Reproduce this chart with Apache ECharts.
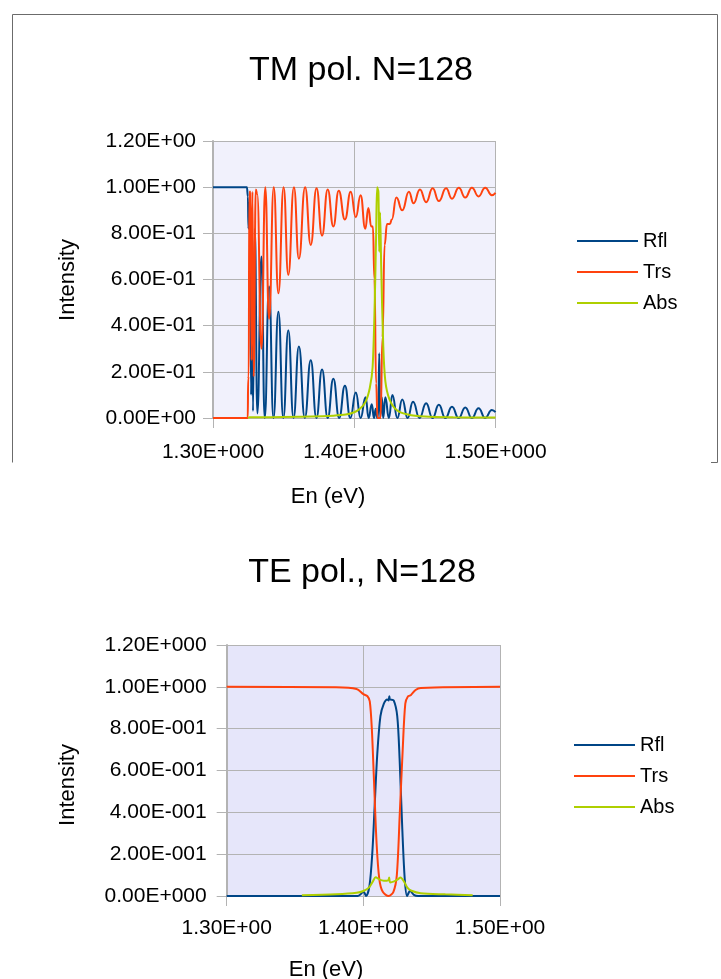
<!DOCTYPE html>
<html>
<head>
<meta charset="utf-8">
<script src="https://cdn.jsdelivr.net/npm/echarts@6/dist/echarts.min.js"></script>
<style>
html,body{margin:0;padding:0;background:#fff;}
#chart{width:721px;height:979px;}
</style>
</head>
<body>
<div id="chart"></div>
<script>
// ---------- data ----------
const seriesNames = ['Rfl', 'Trs', 'Abs'];

const tmYLabels = ['0.00E+00','2.00E-01','4.00E-01','6.00E-01','8.00E-01','1.00E+00','1.20E+00'];
const tmXLabels = ['1.30E+000','1.40E+000','1.50E+000'];
const teYLabels = ['0.00E+000','2.00E-001','4.00E-001','6.00E-001','8.00E-001','1.00E+000','1.20E+000'];
const teXLabels = ['1.30E+00','1.40E+00','1.50E+00'];

const tmRfl = [
[1.3000,1.00],[1.3240,1.00],[1.3247,0.96],[1.3251,0.82],[1.3256,0.93],[1.3262,0.80],[1.3270,0.10],[1.3276,0.82],[1.3283,0.03],
[1.3296,0.82],[1.3314,0.02],[1.3343,0.70],[1.3366,0.00],[1.3397,0.57],[1.3428,0.00],[1.3463,0.46],[1.3498,0.00],[1.3533,0.38],
[1.3570,0.00],[1.3608,0.31],[1.3650,0.00],[1.3692,0.25],[1.3732,0.00],[1.3772,0.21],[1.3812,0.00],[1.3852,0.17],[1.3893,0.00],
[1.3934,0.14],[1.3972,0.00],[1.4011,0.11],[1.4045,0.00],[1.4080,0.09],[1.4102,0.00],[1.4124,0.06],[1.4140,0.00],[1.4152,0.04],
[1.4163,0.00],[1.4170,0.01],[1.4177,0.28],[1.4183,0.00],[1.4195,0.09],[1.4205,0.00],[1.4220,0.09],[1.4245,0.00],[1.4270,0.10],
[1.4305,0.00],[1.4340,0.08],[1.4378,0.00],[1.4416,0.07],[1.4462,0.00],[1.4509,0.064],[1.4554,0.00],[1.4599,0.057],[1.4645,0.00],
[1.4692,0.049],[1.4739,0.00],[1.4786,0.046],[1.4833,0.00],[1.4880,0.042],[1.4927,0.00],[1.4974,0.035],[1.5000,0.025]
];
const tmTrs = [
[1.3000,0.00],[1.3246,0.00],[1.3249,0.17],[1.3253,0.18],[1.3257,0.98],[1.3266,0.98],[1.3273,0.25],[1.3279,0.98],[1.3288,0.18],
[1.3303,0.99],[1.3313,0.97],[1.3343,0.30],[1.3370,1.00],[1.3397,0.43],[1.3430,1.00],[1.3463,0.54],[1.3500,1.00],[1.3533,0.62],
[1.3573,1.00],[1.3608,0.69],[1.3652,1.00],[1.3692,0.75],[1.3733,0.995],[1.3772,0.79],[1.3812,0.99],[1.3852,0.83],[1.3890,0.985],
[1.3934,0.86],[1.3975,0.98],[1.4011,0.87],[1.4045,0.965],[1.4078,0.82],[1.4100,0.91],[1.4120,0.83],[1.4132,0.83],[1.4143,0.60],
[1.4155,0.15],[1.4165,0.00],[1.4186,0.00],[1.4200,0.35],[1.4215,0.75],[1.4232,0.84],[1.4252,0.84],[1.4266,0.86],[1.4298,0.955],
[1.4340,0.90],[1.4387,0.98],[1.4420,0.93],[1.4465,0.99],[1.4509,0.935],[1.4555,0.995],[1.4599,0.94],[1.4650,0.995],[1.4692,0.95],
[1.4740,0.997],[1.4786,0.955],[1.4833,0.998],[1.4880,0.96],[1.4927,0.998],[1.4974,0.965],[1.5000,0.975]
];
const tmAbs = [
[1.3248,0.000],[1.3260,0.003],[1.3500,0.004],[1.3700,0.006],[1.3850,0.010],[1.3940,0.015],[1.4000,0.025],[1.4040,0.040],
[1.4080,0.070],[1.4110,0.130],[1.4130,0.220],[1.4145,0.500],[1.4155,0.800],[1.4162,1.000],[1.4171,0.980],[1.4177,0.720],
[1.4183,0.890],[1.4191,0.650],[1.4205,0.320],[1.4220,0.160],[1.4250,0.080],[1.4300,0.035],[1.4380,0.015],[1.4500,0.006],
[1.4700,0.003],[1.5000,0.002]
];

const teRfl = [
[1.3000,0.00],[1.3960,0.00],[1.4002,0.02],[1.4020,0.00],[1.4045,0.05],[1.4065,0.20],[1.4082,0.42],[1.4102,0.68],[1.4125,0.86],
[1.4150,0.92],[1.4175,0.94],[1.4185,0.935],[1.4190,0.955],[1.4195,0.94],[1.4222,0.935],[1.4248,0.86],[1.4265,0.66],[1.4285,0.32],
[1.4303,0.08],[1.4320,0.00],[1.4342,0.025],[1.4370,0.005],[1.4400,0.00],[1.5000,0.00]
];
const teTrs = [
[1.3000,1.00],[1.3800,0.998],[1.3950,0.99],[1.4000,0.965],[1.4030,0.955],[1.4047,0.93],[1.4062,0.80],[1.4078,0.55],[1.4097,0.25],
[1.4117,0.08],[1.4142,0.02],[1.4185,0.00],[1.4220,0.02],[1.4245,0.10],[1.4267,0.40],[1.4288,0.70],[1.4307,0.92],[1.4327,0.955],
[1.4347,0.96],[1.4382,0.985],[1.4420,0.995],[1.5000,1.00]
];
const teAbs = [
[1.3550,0.004],[1.3800,0.008],[1.3950,0.015],[1.4005,0.025],[1.4040,0.040],[1.4070,0.070],[1.4090,0.090],[1.4120,0.078],
[1.4150,0.073],[1.4182,0.075],[1.4189,0.088],[1.4196,0.065],[1.4225,0.070],[1.4252,0.080],[1.4272,0.088],[1.4297,0.070],
[1.4322,0.040],[1.4352,0.025],[1.4420,0.013],[1.4600,0.008],[1.4800,0.004]
];

// ---------- styling ----------
const FONT = "'Liberation Sans', Arial, sans-serif";
const COLORS = {Rfl:'#004586', Trs:'#ff420e', Abs:'#aecf00'};
const GRIDLINE = '#b3b3b3';

function xAxisCfg(gridIndex, labels, margin) {
  return {
    gridIndex, type:'value', min:1.3, max:1.5, interval:0.1,
    axisLine:{show:true, onZero:false, lineStyle:{color:GRIDLINE, width:1}},
    axisTick:{show:true, length:10, lineStyle:{color:GRIDLINE}},
    axisLabel:{margin, fontSize:21, color:'#000', fontFamily:FONT,
      formatter:(v)=>labels[Math.round((v-1.3)/0.1)]},
    splitLine:{show:true, lineStyle:{color:GRIDLINE, width:1}}
  };
}
function yAxisCfg(gridIndex, labels, margin) {
  return {
    gridIndex, type:'value', min:0, max:1.2, interval:0.2,
    axisLine:{show:true, lineStyle:{color:GRIDLINE, width:2}},
    axisTick:{show:true, length:10, lineStyle:{color:GRIDLINE}},
    axisLabel:{margin, fontSize:21, color:'#000', fontFamily:FONT,
      formatter:(v)=>labels[Math.round(v/0.2)]},
    splitLine:{show:true, lineStyle:{color:GRIDLINE, width:1}}
  };
}
function lineSeries(name, data, idx, smoothCfg) {
  return Object.assign({
    name, type:'line', data, xAxisIndex:idx, yAxisIndex:idx,
    symbol:'none', showSymbol:false, clip:true,
    lineStyle:{color:COLORS[name], width:2},
    itemStyle:{color:COLORS[name]},
    emphasis:{disabled:true}
  }, smoothCfg);
}
function legendCfg(left, top) {
  return {
    data:seriesNames.slice(), orient:'vertical', left, top, padding:0,
    icon:'rect', itemWidth:61, itemHeight:2, itemGap:11, selectedMode:false,
    textStyle:{fontSize:20, lineHeight:20, color:'#000', fontFamily:FONT}
  };
}
function text(t, x, y, size, rot) {
  return {type:'text', x, y, rotation:rot||0, silent:true,
    style:{text:t, fill:'#000', fontSize:size, fontFamily:FONT,
      align:'center', verticalAlign:'middle', textAlign:'center', textVerticalAlign:'middle'}};
}

const monoX = {smooth:0.5, smoothMonotone:'x'};
const soft = {smooth:0.3};

const option = {
  animation:false,
  backgroundColor:'#ffffff',
  grid:[
    {left:213, top:141, width:282.5, height:277, show:true, backgroundColor:'#f1f1fc', borderWidth:0, outerBoundsMode:'none'},
    {left:226.7, top:645, width:273.3, height:251, show:true, backgroundColor:'#e6e6fa', borderWidth:0, outerBoundsMode:'none'}
  ],
  xAxis:[xAxisCfg(0, tmXLabels, 24), xAxisCfg(1, teXLabels, 22)],
  yAxis:[yAxisCfg(0, tmYLabels, 17), yAxisCfg(1, teYLabels, 20)],
  legend:[legendCfg(577, 231), legendCfg(574, 735)],
  series:[
    lineSeries('Rfl', tmRfl, 0, monoX),
    lineSeries('Trs', tmTrs, 0, monoX),
    lineSeries('Abs', tmAbs, 0, soft),
    lineSeries('Rfl', teRfl, 1, soft),
    lineSeries('Trs', teTrs, 1, soft),
    lineSeries('Abs', teAbs, 1, soft)
  ],
  graphic:[
    {type:'polyline', silent:true,
      shape:{points:[[711,462.5],[717.5,462.5],[717.5,14.5],[12.5,14.5],[12.5,462.5]]},
      style:{stroke:'#6b6b6b', lineWidth:1, fill:null}},
    text('TM pol. N=128', 361, 71, 34),
    text('TE pol., N=128', 362, 573, 34),
    text('Intensity', 68, 280, 22, Math.PI/2),
    text('Intensity', 68, 785, 22, Math.PI/2),
    text('En (eV)', 328, 497, 22),
    text('En (eV)', 326, 970, 22)
  ]
};

const chart = echarts.init(document.getElementById('chart'), null, {renderer:'canvas'});
chart.setOption(option);
</script>
</body>
</html>
